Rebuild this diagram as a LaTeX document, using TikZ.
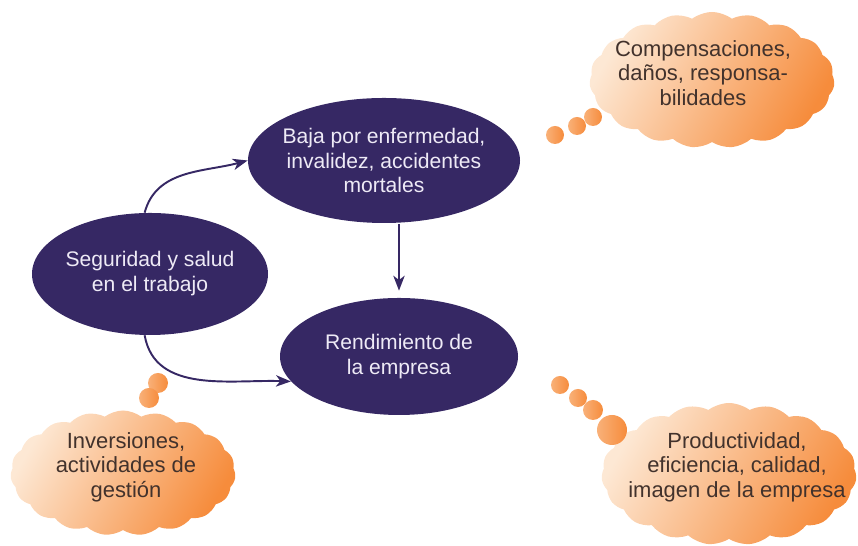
\documentclass[tikz,border=0pt]{standalone}
\usepackage{fontspec}
\setmainfont{Liberation Sans}
\usetikzlibrary{arrows.meta,positioning,shapes.geometric,shapes.symbols}
\definecolor{mMorado}{RGB}{54,40,100}
\definecolor{mLila}{RGB}{238,234,246}
\definecolor{mNaranja}{RGB}{246,140,60}
\definecolor{mCrema}{RGB}{253,232,212}
\definecolor{mMarron}{RGB}{66,50,44}

\begin{document}
\begin{tikzpicture}[
    ovalo/.style={ellipse, fill=mMorado, text=mLila, align=center,
      inner xsep=-4pt, inner ysep=0pt, font=\fontsize{12}{14.2}\selectfont,
      execute at begin node={\rule{0pt}{18pt}}},
    nube/.style={cloud, cloud puffs=19, cloud puff arc=75, cloud ignores aspect,
      left color=mCrema, right color=mNaranja, shading angle=60, inner sep=0pt},
    nubetexto/.style={text=mMarron, align=center, font=\fontsize{12.5}{14}\selectfont},
    burbuja/.style={left color=mCrema!40!mNaranja, right color=mNaranja},
    flecha/.style={-{Stealth[length=8.5pt,width=6.5pt,inset=2.5pt]}, line width=1.1pt, draw=mMorado}
  ]
    \useasboundingbox (0,0) rectangle (17.16,10.92);
    % Clouds
    \node[nube, minimum width=4.9cm, minimum height=2.72cm] (nubeA) at (14.24,9.32) {};
    \node[nube, minimum width=4.5cm, minimum height=2.5cm] (nubeB) at (2.46,1.46) {};
    \node[nube, minimum width=5.1cm, minimum height=2.84cm] (nubeC) at (14.58,1.44) {};
    % Bubbles
    \shade[burbuja] (11.10,8.22) circle (0.18);
    \shade[burbuja] (11.54,8.40) circle (0.18);
    \shade[burbuja] (11.86,8.58) circle (0.18);
    \shade[burbuja] (3.16,3.26) circle (0.2);
    \shade[burbuja] (2.98,2.96) circle (0.2);
    \shade[burbuja] (11.20,3.22) circle (0.18);
    \shade[burbuja] (11.56,2.96) circle (0.18);
    \shade[burbuja] (11.86,2.72) circle (0.2);
    \shade[burbuja] (12.24,2.32) circle (0.3);
    % Cloud texts
    \node[nubetexto] (compensa) at (14.06,9.46) {Compensaciones,\\daños, responsa-\\bilidades};
    \node[nubetexto] (inversion) at (2.52,1.58) {Inversiones,\\actividades de\\gestión};
    \node[nubetexto] (producto) at (14.74,1.58) {Productividad,\\eficiencia, calidad,\\imagen de la empresa};
    % Ellipses
    \node[ovalo, minimum width=5.44cm, minimum height=2.5cm] (baja) at (7.68,7.71) {Baja por enfermedad,\\invalidez, accidentes\\mortales};
    \node[ovalo, minimum width=4.72cm, minimum height=2.44cm] (seguridad) at (3.0,5.44) {Seguridad y salud\\en el trabajo};
    \node[ovalo, minimum width=4.76cm, minimum height=2.34cm] (rendim) at (7.98,3.79) {Rendimiento de\\la empresa};
    % Arrows
    \draw[flecha] (seguridad.95) to[out=75, in=195] (baja.west);
    \draw[flecha, shorten <=0.5pt, shorten >=4pt] (baja.south -| rendim.north) -- (rendim.north);
    \draw[flecha] (seguridad.265) to[out=-80, in=178] (rendim.193);
  \end{tikzpicture}
\end{document}
